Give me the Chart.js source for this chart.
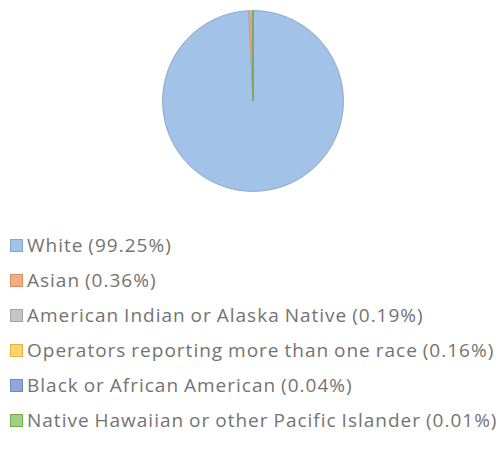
<!DOCTYPE html>
<html>
<head>
<meta charset="utf-8">
<script src="https://cdn.jsdelivr.net/npm/chart.js@4.4.1/dist/chart.umd.min.js"></script>
<style>
    html, body { margin: 0; padding: 0; background: #fff; }
    body { width: 504px; height: 473px; position: relative; overflow: hidden; }
    #pieBox { position: absolute; left: 160px; top: 7px; width: 186px; height: 188px; }
    #legend { position: absolute; left: 10px; top: 228px; margin: 0; padding: 0; list-style: none;
              font-family: "Open Sans", sans-serif; font-size: 19px; letter-spacing: 1px; word-spacing: -1px; color: #737373; }
    #legend li { height: 35px; line-height: 35px; white-space: nowrap; }
    #legend .box { display: inline-block; width: 11px; height: 11px; margin-right: 4px;
                   vertical-align: 0px; border: 1px solid; }
</style>
</head>
<body>
<div id="pieBox"><canvas id="pieChart"></canvas></div>
<ul id="legend"></ul>
<script>
const categories = ['White', 'Asian', 'American Indian or Alaska Native',
    'Operators reporting more than one race', 'Black or African American',
    'Native Hawaiian or other Pacific Islander'];
const shares = [99.25, 0.36, 0.19, 0.16, 0.04, 0.01];
const fills   = ['#a3c2e7', '#f2ad84', '#c6c6c6', '#fdd36b', '#8ea8dc', '#a2cf86'];
const borders = ['#86a6cf', '#d98e60', '#a5a5a5', '#e0b440', '#6e88c0', '#70ad47'];

const ctx = document.getElementById('pieChart').getContext('2d');

let pieChart = new Chart(ctx, {
    type: 'pie',
    data: {
        labels: categories,
        datasets: [{
            data: shares,
            backgroundColor: fills,
            borderColor: borders,
            borderWidth: [1, 0.6, 0.6, 0.6, 0.6, 1.2]
        }]
    },
    options: {
        responsive: true,
        maintainAspectRatio: false,
        animation: false,
        layout: { padding: 2 },
        plugins: {
            legend: { display: false },
            tooltip: { enabled: false }
        }
    }
});

const legend = document.getElementById('legend');

categories.forEach((name, i) => {
    const li = document.createElement('li');
    const box = document.createElement('span');
    box.className = 'box';
    box.style.background = fills[i];
    box.style.borderColor = borders[i];
    li.appendChild(box);
    li.appendChild(document.createTextNode(`${name} (${shares[i].toFixed(2)}%)`));
    legend.appendChild(li);
});
</script>
</body>
</html>
